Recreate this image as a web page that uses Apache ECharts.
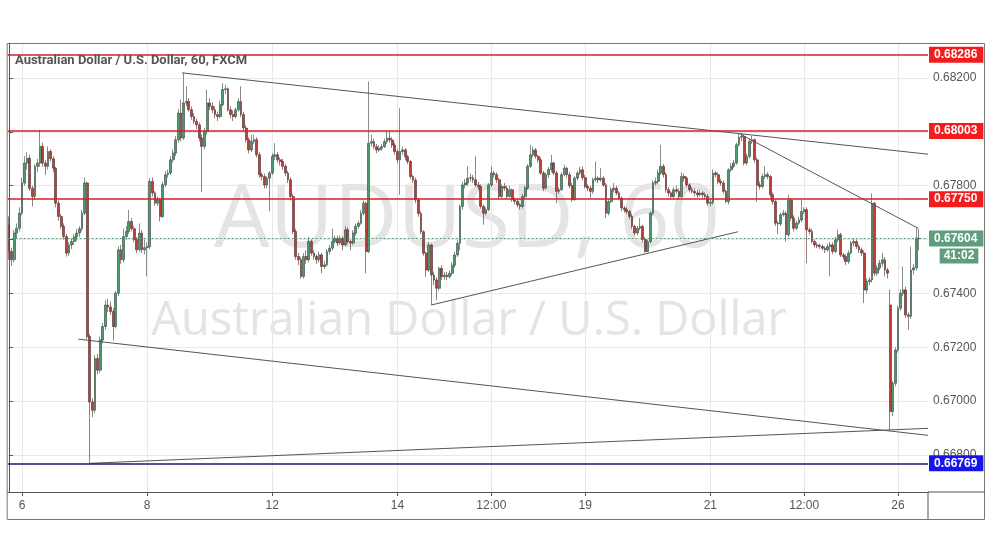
<!DOCTYPE html>
<html><head><meta charset="utf-8">
<script src="https://cdn.jsdelivr.net/npm/echarts@6/dist/echarts.min.js"></script>
<style>html,body{margin:0;padding:0;background:#fff}#c{width:991px;height:556px}</style>
</head><body><div id="c"></div>
<script>
// AUD/USD hourly candles, values in 1e-5 units: [open, close, low, high]
const PRICE_UNIT = 1e5;
const candles = [
[67655,67556,67525,67686],[67556,67525,67502,67570],[67525,67624,67515,67635],[67624,67642,67605,67660],
[67642,67698,67630,67720],[67698,67810,67690,67830],[67810,67884,67800,67910],[67884,67902,67860,67925],
[67902,67790,67780,67915],[67790,67760,67723,67800],[67760,67872,67750,67880],[67872,67884,67850,67900],
[67884,67946,67870,68008],[67946,67884,67870,67960],[67884,67872,67840,67895],[67872,67927,67860,67946],
[67927,67900,67890,67935],[67900,67865,67850,67910],[67865,67735,67720,67870],[67735,67686,67670,67745],
[67686,67649,67640,67695],[67649,67611,67600,67660],[67611,67550,67537,67620],[67550,67580,67540,67590],
[67580,67593,67565,67605],[67593,67610,67580,67620],[67610,67624,67595,67640],[67624,67640,67610,67650],
[67640,67698,67630,67710],[67698,67810,67690,67830],[67810,67240,67230,67815],[67240,66997,66769,67250],
[66997,66966,66940,67010],[66966,67158,66955,67170],[67158,67115,67100,67175],[67115,67227,67105,67240],
[67227,67277,67215,67290],[67277,67357,67265,67375],[67357,67350,67330,67380],[67350,67333,67320,67370],
[67333,67277,67225,67345],[67277,67401,67270,67410],[67401,67562,67390,67575],[67562,67525,67510,67580],
[67525,67611,67515,67640],[67611,67630,67600,67650],[67630,67667,67620,67710],[67667,67640,67630,67680],
[67640,67600,67590,67650],[67600,67562,67550,67610],[67562,67624,67555,67660],[67624,67562,67550,67635],
[67562,67570,67545,67600],[67570,67574,67463,67590],[67574,67816,67565,67828],[67816,67773,67760,67830],
[67773,67735,67725,67780],[67735,67748,67725,67760],[67748,67686,67667,67755],[67686,67804,67680,67815],
[67804,67841,67795,67855],[67841,67847,67830,67860],[67847,67896,67840,67910],[67896,67921,67885,67935],
[67921,67971,67910,67985],[67971,68070,67960,68085],[68070,67977,67965,68120],[67977,68107,67970,68219],
[68107,68113,68095,68170],[68113,68082,68075,68125],[68082,68057,68045,68095],[68057,68039,68030,68070],
[68039,68026,68010,68050],[68026,67977,67965,68035],[67977,67946,67777,67990],[67946,68002,67935,68015],
[68002,68107,67990,68157],[68107,68095,68080,68125],[68095,68082,68070,68110],[68082,68064,68050,68095],
[68064,68057,68040,68075],[68057,68101,68050,68115],[68101,68157,68095,68181],[68157,68160,68140,68175],
[68160,68082,68075,68165],[68082,68064,68050,68095],[68064,68057,68040,68080],[68057,68082,68050,68090],
[68082,68113,68075,68125],[68113,68064,68055,68169],[68064,68014,68000,68075],[68014,67971,67960,68025],
[67971,67933,67920,67980],[67933,67965,67925,67989],[67965,67971,67955,67990],[67971,67915,67905,67980],
[67915,67841,67830,67925],[67841,67834,67820,67850],[67834,67803,67790,67845],[67803,67828,67790,67835],
[67828,67847,67705,67855],[67847,67909,67840,67920],[67909,67915,67895,67958],[67915,67896,67885,67925],
[67896,67890,67875,67905],[67890,67872,67860,67900],[67872,67847,67835,67880],[67847,67822,67810,67855],
[67822,67760,67745,67830],[67760,67630,67620,67770],[67630,67537,67525,67640],[67537,67525,67505,67550],
[67525,67463,67455,67535],[67463,67537,67455,67550],[67537,67525,67510,67560],[67525,67593,67515,67610],
[67593,67550,67540,67600],[67550,67537,67525,67560],[67537,67525,67510,67545],[67525,67543,67515,67555],
[67543,67500,67475,67550],[67500,67506,67490,67520],[67506,67556,67500,67565],[67556,67568,67545,67580],
[67568,67593,67560,67640],[67593,67605,67585,67615],[67605,67587,67575,67615],[67587,67605,67580,67615],
[67605,67580,67560,67612],[67580,67636,67575,67650],[67636,67593,67585,67645],[67593,67587,67560,67600],
[67587,67624,67580,67635],[67624,67649,67615,67660],[67649,67661,67640,67670],[67661,67698,67655,67710],
[67698,67735,67690,67745],[67735,67556,67475,67740],[67556,67958,67550,68187],[67958,67964,67945,67990],
[67964,67945,67935,67975],[67945,67933,67920,67955],[67933,67939,67925,67950],[67939,67945,67930,67955],
[67945,67964,67940,67975],[67964,67976,67955,68007],[67976,67970,67960,68000],[67970,67951,67940,67980],
[67951,67927,67915,67960],[67927,67896,67885,67935],[67896,67927,67766,68088],[67927,67933,67915,67945],
[67933,67908,67895,67940],[67908,67890,67880,67915],[67890,67834,67825,67895],[67834,67821,67810,67840],
[67821,67747,67735,67830],[67747,67697,67685,67755],[67697,67629,67620,67705],[67629,67549,67540,67635],
[67549,67487,67462,67555],[67487,67580,67480,67590],[67580,67468,67357,67585],[67468,67450,67430,67480],
[67450,67419,67375,67460],[67419,67493,67410,67500],[67493,67462,67450,67505],[67462,67468,67450,67480],
[67468,67462,67450,67480],[67462,67475,67455,67485],[67475,67505,67465,67515],[67505,67543,67495,67555],
[67543,67586,67535,67600],[67586,67723,67560,67730],[67723,67803,67710,67815],[67803,67810,67790,67825],
[67810,67828,67800,67872],[67828,67830,67815,67845],[67830,67822,67810,67840],[67822,67803,67795,67909],
[67803,67797,67785,67815],[67797,67723,67715,67805],[67723,67698,67655,67730],[67698,67711,67690,67720],
[67711,67803,67705,67810],[67803,67847,67795,67872],[67847,67841,67830,67855],[67841,67822,67810,67850],
[67822,67760,67750,67830],[67760,67797,67755,67805],[67797,67791,67780,67810],[67791,67760,67750,67800],
[67760,67785,67755,67800],[67785,67748,67740,67790],[67748,67742,67730,67755],[67742,67729,67720,67750],
[67729,67723,67711,67735],[67723,67760,67715,67770],[67760,67791,67750,67800],[67791,67872,67785,67880],
[67872,67915,67865,67952],[67915,67933,67905,67945],[67933,67909,67900,67940],[67909,67896,67885,67915],
[67896,67847,67840,67905],[67847,67791,67780,67855],[67791,67841,67785,67850],[67841,67860,67830,67870],
[67860,67884,67850,67915],[67884,67847,67840,67890],[67847,67779,67735,67855],[67779,67785,67770,67795],
[67785,67841,67780,67850],[67841,67865,67835,67878],[67865,67841,67830,67870],[67841,67800,67790,67850],
[67800,67748,67740,67810],[67748,67828,67745,67835],[67828,67847,67820,67855],[67847,67859,67840,67870],
[67859,67830,67820,67872],[67830,67797,67790,67840],[67797,67791,67780,67805],[67791,67779,67755,67800],
[67779,67822,67770,67830],[67822,67828,67815,67890],[67828,67822,67810,67835],[67822,67828,67815,67865],
[67828,67803,67795,67835],[67803,67698,67680,67810],[67698,67741,67690,67750],[67741,67785,67735,67795],
[67785,67791,67775,67810],[67791,67773,67765,67800],[67773,67754,67745,67780],[67754,67717,67705,67760],
[67717,67711,67700,67725],[67711,67704,67695,67720],[67704,67686,67675,67710],[67686,67649,67640,67695],
[67649,67624,67615,67655],[67624,67642,67615,67650],[67642,67649,67635,67680],[67649,67600,67590,67655],
[67600,67556,67551,67610],[67556,67593,67553,67600],[67593,67698,67585,67705],[67698,67810,67690,67820],
[67810,67816,67800,67830],[67816,67847,67805,67860],[67847,67872,67840,67952],[67872,67841,67830,67880],
[67841,67785,67775,67850],[67785,67773,67760,67795],[67773,67760,67748,67780],[67760,67785,67750,67795],
[67785,67779,67770,67800],[67779,67760,67750,67790],[67760,67834,67755,67850],[67834,67828,67815,67845],
[67828,67803,67795,67835],[67803,67785,67775,67810],[67785,67779,67770,67795],[67779,67773,67760,67790],
[67773,67766,67755,67785],[67766,67773,67760,67785],[67773,67766,67755,67780],[67766,67760,67750,67775],
[67760,67735,67725,67770],[67735,67738,67723,67750],[67738,67847,67730,67860],[67847,67841,67830,67855],
[67841,67816,67805,67850],[67816,67810,67800,67825],[67810,67779,67770,67820],[67779,67741,67735,67785],
[67741,67859,67730,67865],[67859,67872,67850,67885],[67872,67884,67865,67895],[67884,67952,67878,67960],
[67952,67980,67945,67992],[67980,67983,67965,67995],[67983,67884,67875,67990],[67884,67909,67875,67920],
[67909,67965,67900,67975],[67965,67971,67955,67985],[67971,67896,67885,67975],[67896,67803,67741,67905],
[67803,67797,67785,67815],[67797,67834,67790,67845],[67834,67841,67825,67872],[67841,67834,67825,67850],
[67834,67766,67755,67840],[67766,67741,67730,67775],[67741,67661,67650,67750],[67661,67658,67620,67670],
[67658,67692,67650,67700],[67692,67698,67685,67710],[67698,67618,67593,67705],[67618,67748,67610,67766],
[67748,67680,67670,67755],[67680,67642,67630,67690],[67642,67661,67635,67670],[67661,67673,67655,67685],
[67673,67704,67665,67748],[67704,67711,67695,67720],[67711,67636,67512,67720],[67636,67630,67620,67645],
[67630,67593,67585,67640],[67593,67580,67570,67600],[67580,67577,67568,67590],[67577,67574,67565,67585],
[67574,67568,67560,67582],[67568,67562,67550,67575],[67562,67574,67555,67585],[67574,67580,67463,67590],
[67580,67556,67545,67590],[67556,67599,67550,67610],[67599,67618,67590,67636],[67618,67543,67535,67625],
[67543,67537,67525,67550],[67537,67518,67505,67545],[67518,67550,67510,67560],[67550,67587,67545,67595],
[67587,67593,67575,67605],[67593,67574,67565,67600],[67574,67562,67550,67582],[67562,67550,67540,67570],
[67550,67413,67364,67560],[67413,67444,67400,67455],[67444,67450,67430,67460],[67450,67735,67440,67772],
[67735,67475,67465,67740],[67475,67494,67465,67505],[67494,67512,67485,67525],[67512,67525,67500,67550],
[67525,67487,67463,67535],[67487,67475,67455,67495],[67357,66961,66892,67415],[66961,67066,66945,67075],
[67066,67190,67055,67200],[67190,67345,67180,67355],[67345,67401,67335,67415],[67401,67413,67390,67500],
[67413,67320,67310,67425],[67320,67315,67265,67330],[67315,67487,67305,67574],[67487,67495,67470,67510],
[67495,67605,67485,67643],[67605,67604,67560,67640]
];
const slotCount = 353;                       // hourly slots on the time axis
const tickIdx  = [5, 53, 101, 149, 185, 221, 269, 305, 341];
const tickText = ['6', '8', '12', '14', '12:00', '19', '21', '12:00', '26'];
const priceTicks = [0.668, 0.670, 0.672, 0.674, 0.676, 0.678, 0.680, 0.682];
const priceMin = 0.666625, priceMax = 0.6833;
const redLevels = [0.68286, 0.68003, 0.67750];
const blueLevel = 0.66769;
const lastPrice = 0.67604;
const countdown = '41:02';
// trend lines: [slot index, price]
const lineUpperFall = [[66.4, 0.68219], [352.5, 0.67917]];
const lineRecentFall = [[280.4, 0.67992], [348.7, 0.67642]];
const lineMidRise = [[162, 0.67357], [279.6, 0.67629]];
const lineLowerFall = [[26.6, 0.67230], [352.5, 0.66873]];
const lineLowerRise = [[31, 0.66769], [352.5, 0.66899]];

const chart = echarts.init(document.getElementById('c'));
const cats = Array.from({length: slotCount}, (_, i) => 'h' + i);
const ohlc = candles.map(r => r.map(v => v / PRICE_UNIT));
const FONT = '"Liberation Sans", Arial, sans-serif';
const axisColor = '#555';
const gridColor = '#e8e8e8';

function boxLabel(bg) {
  return { show: true, position: 'end', distance: 1, formatter: p => Number(p.value).toFixed(5),
    color: '#fff', backgroundColor: bg, padding: [2, 6, 1, 5], fontSize: 12, fontWeight: 'bold',
    fontFamily: FONT, lineHeight: 13 };
}
const levelData = redLevels.map(v => ({ yAxis: v, lineStyle: { color: '#d4202a', width: 1.5, type: 'solid' }, label: boxLabel('#f41c1c') }));
levelData.push({ yAxis: blueLevel, lineStyle: { color: '#1a1a70', width: 1.5, type: 'solid' }, label: boxLabel('#1414f0') });
levelData.push({ yAxis: lastPrice, lineStyle: { color: '#5c9a7a', width: 1, type: [2, 2] }, label: boxLabel('#5f9d7e') });

function trend(d) {
  return { type: 'line', xAxisIndex: 1, data: d, showSymbol: false, symbol: 'none', silent: true,
    lineStyle: { color: '#555', width: 1 }, z: 3 };
}

chart.setOption({
  animation: false,
  backgroundColor: '#fff',
  title: { text: 'Australian Dollar / U.S. Dollar, 60, FXCM', left: 15, top: 54, padding: 0,
    textStyle: { fontSize: 13, fontWeight: 'bold', color: '#555', fontFamily: 'Roboto' } },
  grid: { left: 7.66, right: 63, top: 43, bottom: 64 },
  xAxis: [
    { type: 'category', data: cats, position: 'top', axisLine: { show: false }, axisTick: { show: false },
      axisLabel: { show: false }, splitLine: { show: false } },
    { type: 'value', min: -0.5, max: slotCount - 0.5, position: 'bottom',
      axisLine: { show: true, lineStyle: { color: axisColor } },
      axisTick: { show: true, length: 4, customValues: tickIdx, lineStyle: { color: axisColor } },
      axisLabel: { customValues: tickIdx, formatter: v => tickText[tickIdx.indexOf(Math.round(v))],
        color: '#555', fontSize: 12, margin: 8, fontFamily: FONT },
      splitLine: { show: true, lineStyle: { color: gridColor } } }
  ],
  yAxis: { type: 'value', position: 'right', min: priceMin, max: priceMax,
    axisLine: { show: true, lineStyle: { color: axisColor } },
    axisTick: { show: true, length: 4, customValues: priceTicks, lineStyle: { color: axisColor } },
    axisLabel: { customValues: priceTicks, formatter: v => v.toFixed(5), color: '#555', fontSize: 12,
      margin: 5, fontFamily: FONT },
    splitLine: { show: true, lineStyle: { color: gridColor } } },
  series: [
    { type: 'candlestick', xAxisIndex: 0, data: ohlc, barWidth: 2.3, clip: false,
      itemStyle: { color: '#4b9b6e', color0: '#c23c36', borderColor: '#34443a', borderColor0: '#4a2c2c', borderWidth: 0.6 },
      markLine: { symbol: ['none', 'none'], silent: true, animation: false, precision: 5, data: levelData }, z: 2 },
    trend(lineUpperFall), trend(lineRecentFall), trend(lineMidRise), trend(lineLowerFall), trend(lineLowerRise)
  ]
});

const yLast = chart.convertToPixel({ yAxisIndex: 0 }, lastPrice);
const xRight = chart.convertToPixel({ xAxisIndex: 1 }, slotCount - 0.5);
const yBottom = chart.convertToPixel({ yAxisIndex: 0 }, priceMin);
const yTop = chart.convertToPixel({ yAxisIndex: 0 }, priceMax);
const xLeft = chart.convertToPixel({ xAxisIndex: 1 }, -0.5);
chart.setOption({
  graphic: { elements: [
    { type: 'text', x: 467, y: 222, z: -1, silent: true,
      style: { text: 'AUDUSD, 60', fill: '#e4e4e4', font: '88px "Open Sans", sans-serif', align: 'center', verticalAlign: 'middle', textAlign: 'center', textVerticalAlign: 'middle' } },
    { type: 'text', x: 469, y: 322, z: -1, silent: true,
      style: { text: 'Australian Dollar / U.S. Dollar', fill: '#e4e4e4', font: '47px "Open Sans", sans-serif', align: 'center', verticalAlign: 'middle', textAlign: 'center', textVerticalAlign: 'middle' } },
    { type: 'text', x: xRight + 31, y: yLast + 17.5, z: 50, silent: true,
      style: { text: countdown, fill: '#fff', backgroundColor: '#5f9d7e', padding: [2, 4, 1, 4], font: 'bold 12px ' + FONT,
        align: 'center', verticalAlign: 'middle', textAlign: 'center', textVerticalAlign: 'middle' } },
    { type: 'rect', z: 60, silent: true, shape: { x: xLeft - 0.5, y: yTop + 0.5, width: 985 - xLeft, height: 519 - yTop },
      style: { fill: 'transparent', stroke: '#777', lineWidth: 1 } },
    { type: 'line', z: 60, silent: true, shape: { x1: xRight, y1: yBottom, x2: xRight, y2: 519 }, style: { stroke: axisColor, lineWidth: 1 } },
    { type: 'line', z: 60, silent: true, shape: { x1: xRight, y1: yBottom, x2: 985, y2: yBottom }, style: { stroke: axisColor, lineWidth: 1 } }
  ] }
});
</script></body></html>
